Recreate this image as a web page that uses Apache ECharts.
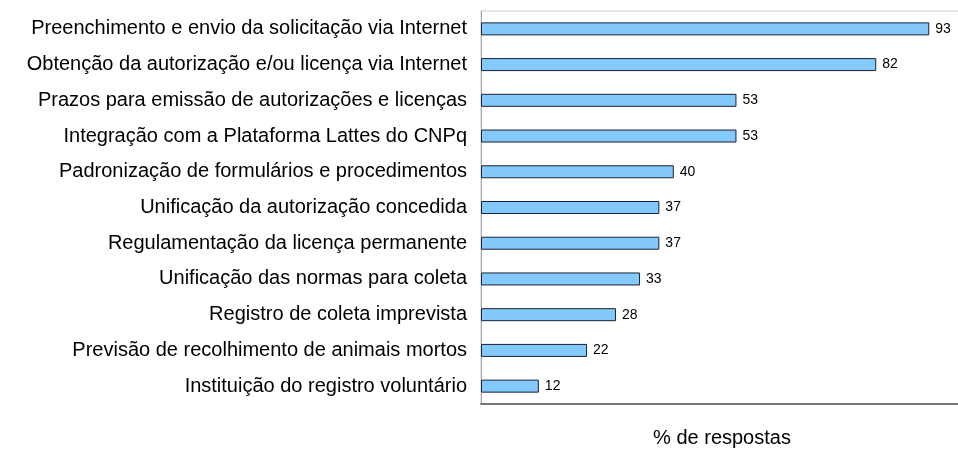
<!DOCTYPE html>
<html>
<head>
<meta charset="utf-8">
<script src="https://cdn.jsdelivr.net/npm/echarts@6/dist/echarts.min.js"></script>
<style>
  html, body { margin: 0; padding: 0; background: #fff; }
  #chart { width: 958px; height: 451px; }
</style>
</head>
<body>
<div id="chart"></div>
<script>
// categorias (de cima para baixo)
var categorias = [
  'Preenchimento e envio da solicitação via Internet',
  'Obtenção da autorização e/ou licença via Internet',
  'Prazos para emissão de autorizações e licenças',
  'Integração com a Plataforma Lattes do CNPq',
  'Padronização de formulários e procedimentos',
  'Unificação da autorização concedida',
  'Regulamentação da licença permanente',
  'Unificação das normas para coleta',
  'Registro de coleta imprevista',
  'Previsão de recolhimento de animais mortos',
  'Instituição do registro voluntário'
];
// % de respostas
var respostas = [93, 82, 53, 53, 40, 37, 37, 33, 28, 22, 12];

var chart = echarts.init(document.getElementById('chart'));

var option = {
  animation: false,
  textStyle: { fontFamily: 'Liberation Sans, Arial, sans-serif' },
  grid: {
    left: 481,
    right: -5,
    top: 11,
    bottom: 47,
    containLabel: false,
    outerBoundsMode: 'none',
    show: true,
    borderColor: '#c8c8c8',
    borderWidth: 1
  },
  xAxis: {
    type: 'value',
    min: 0,
    max: 100,
    name: '% de respostas',
    nameLocation: 'middle',
    nameGap: 24,
    nameTextStyle: { color: '#000', fontSize: 20, verticalAlign: 'top' },
    axisLine: { show: true, lineStyle: { color: '#777', width: 2 } },
    axisTick: { show: false },
    axisLabel: { show: false },
    splitLine: { show: false }
  },
  yAxis: {
    type: 'category',
    inverse: true,
    data: categorias,
    axisLine: { show: true, lineStyle: { color: '#a8a8a8', width: 1 } },
    axisTick: { show: false },
    axisLabel: { color: '#000', fontSize: 20, margin: 14 },
    splitLine: { show: false }
  },
  series: [{
    type: 'bar',
    data: respostas,
    barWidth: 13,
    itemStyle: {
      color: '#84c9fb',
      borderColor: '#1b2233',
      borderWidth: 1
    },
    label: {
      show: true,
      position: 'right',
      distance: 6,
      color: '#000',
      fontSize: 14
    }
  }]
};

chart.setOption(option);
</script>
</body>
</html>
